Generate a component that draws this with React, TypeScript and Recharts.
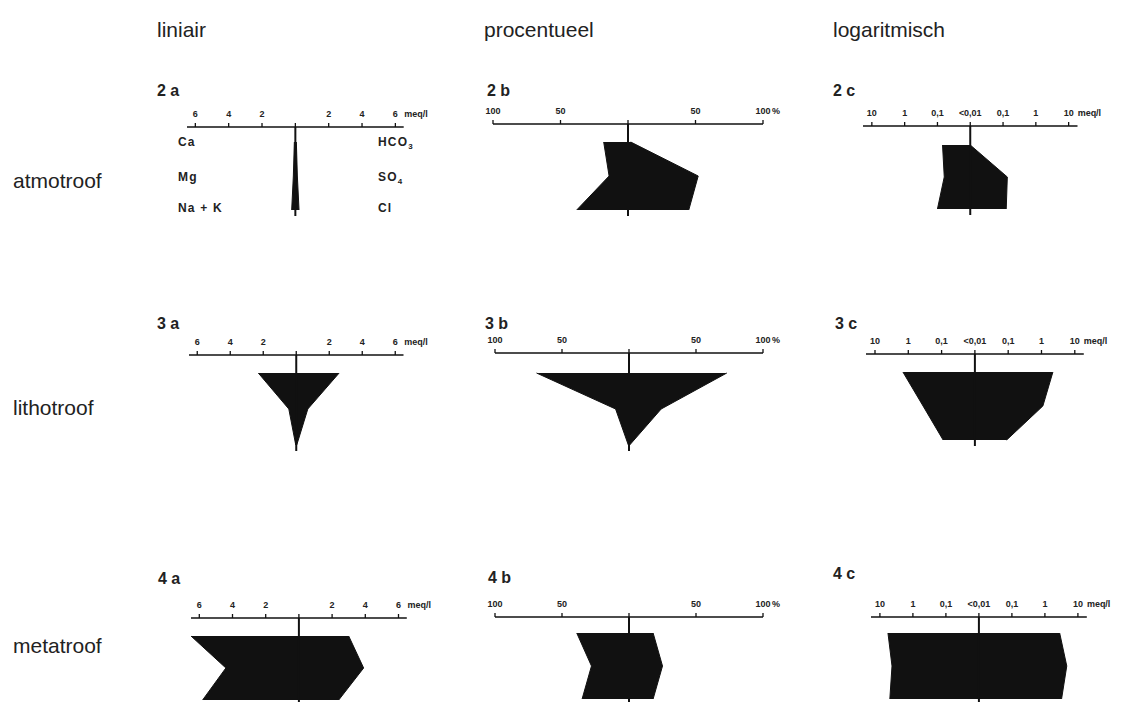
import React from 'react';
import { ComposedChart, Area, XAxis, YAxis, ReferenceLine } from 'recharts';

type Kind = 'lin' | 'pct' | 'log';

// rows of a Stiff diagram: Ca | HCO3, Mg | SO4, Na+K | Cl
const ROW_INDEX = [0, 1, 2];

const LIN_TICKS = [-6, -4, -2, 0, 2, 4, 6];
const LIN_LABELS = ['6', '4', '2', '', '2', '4', '6'];
const PCT_TICKS = [-100, -50, 0, 50, 100];
const PCT_LABELS = ['100', '50', '', '50', '100'];
const LOG_TICKS = [-3, -2, -1, 0, 1, 2, 3];
const LOG_LABELS = ['10', '1', '0,1', '<0,01', '0,1', '1', '10'];

// atmotroof (meq/l, %, meq/l)
const ATMO_LIN_CAT = [0.06, 0.12, 0.22];
const ATMO_LIN_AN = [0.06, 0.12, 0.22];
const ATMO_PCT_CAT = [18, 14, 38];
const ATMO_PCT_AN = [2, 52, 45];
const ATMO_LOG_CAT = [0.07, 0.062, 0.1];
const ATMO_LOG_AN = [0.01, 0.135, 0.125];

// lithotroof
const LITHO_LIN_CAT = [2.3, 0.45, 0.03];
const LITHO_LIN_AN = [2.6, 0.7, 0.03];
const LITHO_PCT_CAT = [69, 10, 0.5];
const LITHO_PCT_AN = [73, 24, 0.5];
const LITHO_LOG_CAT = [1.45, 0.36, 0.09];
const LITHO_LOG_AN = [2.2, 1.1, 0.09];

// metatroof
const META_LIN_CAT = [6.5, 4.4, 5.8];
const META_LIN_AN = [3.0, 3.9, 2.4];
const META_PCT_CAT = [39, 28, 35];
const META_PCT_AN = [18, 25, 18];
const META_LOG_CAT = [5.7, 4.3, 5.0];
const META_LOG_AN = [2.8, 4.6, 3.2];

const AXIS = {
  lin: { half: 6.5, ticks: LIN_TICKS, labels: LIN_LABELS, unit: 'meq/l' },
  pct: { half: 100, ticks: PCT_TICKS, labels: PCT_LABELS, unit: '%' },
  log: { half: 3.27, ticks: LOG_TICKS, labels: LOG_LABELS, unit: 'meq/l' },
};

const toPos = (kind: Kind, v: number) =>
  kind === 'log' ? Math.log10(Math.max(v, 0.01)) + 2 : v;

const PANELS = [
  { kind: 'lin', cat: ATMO_LIN_CAT, an: ATMO_LIN_AN, cx: 295, ppu: 16.67, axisY: 127, row0: 142, gap: 34 },
  { kind: 'pct', cat: ATMO_PCT_CAT, an: ATMO_PCT_AN, cx: 627.5, ppu: 1.35, axisY: 124, row0: 142, gap: 34 },
  { kind: 'log', cat: ATMO_LOG_CAT, an: ATMO_LOG_AN, cx: 970.5, ppu: 32.8, axisY: 126, row0: 145, gap: 32 },
  { kind: 'lin', cat: LITHO_LIN_CAT, an: LITHO_LIN_AN, cx: 296, ppu: 16.5, axisY: 355, row0: 373, gap: 36 },
  { kind: 'pct', cat: LITHO_PCT_CAT, an: LITHO_PCT_AN, cx: 629, ppu: 1.34, axisY: 353, row0: 373, gap: 36 },
  { kind: 'log', cat: LITHO_LOG_CAT, an: LITHO_LOG_AN, cx: 975, ppu: 33.3, axisY: 354, row0: 372, gap: 34 },
  { kind: 'lin', cat: META_LIN_CAT, an: META_LIN_AN, cx: 298.5, ppu: 16.6, axisY: 618, row0: 636, gap: 32 },
  { kind: 'pct', cat: META_PCT_CAT, an: META_PCT_AN, cx: 629, ppu: 1.34, axisY: 617, row0: 633, gap: 33 },
  { kind: 'log', cat: META_LOG_CAT, an: META_LOG_AN, cx: 979, ppu: 33, axisY: 617, row0: 633, gap: 33 },
] as const;

const INK = '#111';
const AXIS_H = 22;
const M_LEFT = 12;
const M_RIGHT = 52;
const TAIL = 6;
const FONT = "'Liberation Sans', Arial, sans-serif";

function AxisTick(props: any) {
  const { x, y, payload, kind } = props;
  const cfg = AXIS[kind as Kind];
  const i = cfg.ticks.indexOf(payload.value);
  const isLast = i === cfg.ticks.length - 1;
  return (
    <g>
      <text x={x} y={y - 4} textAnchor="middle" fontSize={9} fontWeight={700} fill="#222" fontFamily={FONT}>
        {cfg.labels[i]}
      </text>
      {isLast && (
        <text x={x + 9} y={y - 4} textAnchor="start" fontSize={9} fontWeight={700} fill="#222" fontFamily={FONT}>
          {cfg.unit}
        </text>
      )}
    </g>
  );
}

function StiffPanel({ p }: { p: (typeof PANELS)[number] }) {
  const kind = p.kind as Kind;
  const cfg = AXIS[kind];
  const data = ROW_INDEX.map((r) => ({
    row: r,
    span: [-toPos(kind, p.cat[r]), toPos(kind, p.an[r])],
  }));
  const plotW = 2 * cfg.half * p.ppu;
  const plotH = p.row0 - p.axisY + 2 * p.gap + TAIL;
  const left = p.cx - cfg.half * p.ppu - M_LEFT;
  const top = p.axisY - AXIS_H;
  return (
    <div style={{ position: 'absolute', left, top }}>
      <ComposedChart
        layout="vertical"
        width={plotW + M_LEFT + M_RIGHT}
        height={plotH + AXIS_H}
        data={data}
        margin={{ top: 0, right: M_RIGHT, bottom: 0, left: M_LEFT }}
      >
        <XAxis
          type="number"
          orientation="top"
          domain={[-cfg.half, cfg.half]}
          ticks={cfg.ticks}
          allowDataOverflow
          height={AXIS_H}
          axisLine={{ stroke: INK, strokeWidth: 1.3 }}
          tickLine={{ stroke: INK, strokeWidth: 1.3 }}
          tickSize={4}
          tickMargin={2}
          interval={0}
          tick={(t: any) => <AxisTick {...t} kind={kind} />}
        />
        <YAxis
          type="number"
          dataKey="row"
          hide
          allowDataOverflow
          domain={[-(p.row0 - p.axisY) / p.gap, 2 + TAIL / p.gap]}
        />
        <Area
          type="linear"
          dataKey="span"
          stroke={INK}
          strokeWidth={1}
          fill={INK}
          fillOpacity={1}
          dot={false}
          activeDot={false}
          isAnimationActive={false}
        />
        <ReferenceLine x={0} stroke={INK} strokeWidth={2} />
      </ComposedChart>
    </div>
  );
}

const txt: React.CSSProperties = {
  position: 'absolute',
  whiteSpace: 'nowrap',
  color: '#222',
  lineHeight: 1,
};

export default function App() {
  const head = { ...txt, fontSize: 21, top: 19 };
  const rowLbl = { ...txt, fontSize: 21, left: 13 };
  const pl = { ...txt, fontSize: 16, fontWeight: 700 };
  const ion = { ...txt, fontSize: 12, fontWeight: 700, letterSpacing: 1.2 };
  return (
    <div
      style={{
        position: 'absolute',
        left: 0,
        top: 0,
        width: 1124,
        height: 702,
        overflow: 'hidden',
        background: '#fff',
        fontFamily: FONT,
      }}
    >
      <div style={{ ...head, left: 157 }}>liniair</div>
      <div style={{ ...head, left: 484 }}>procentueel</div>
      <div style={{ ...head, left: 833 }}>logaritmisch</div>

      <div style={{ ...rowLbl, top: 170 }}>atmotroof</div>
      <div style={{ ...rowLbl, top: 397 }}>lithotroof</div>
      <div style={{ ...rowLbl, top: 635 }}>metatroof</div>

      <div style={{ ...pl, left: 157, top: 83 }}>2 a</div>
      <div style={{ ...pl, left: 487, top: 83 }}>2 b</div>
      <div style={{ ...pl, left: 833, top: 83 }}>2 c</div>
      <div style={{ ...pl, left: 157, top: 316 }}>3 a</div>
      <div style={{ ...pl, left: 485, top: 316 }}>3 b</div>
      <div style={{ ...pl, left: 835, top: 316 }}>3 c</div>
      <div style={{ ...pl, left: 158, top: 571 }}>4 a</div>
      <div style={{ ...pl, left: 488, top: 570 }}>4 b</div>
      <div style={{ ...pl, left: 833, top: 566 }}>4 c</div>

      <div style={{ ...ion, left: 178, top: 136 }}>Ca</div>
      <div style={{ ...ion, left: 178, top: 171 }}>Mg</div>
      <div style={{ ...ion, left: 178, top: 202 }}>Na + K</div>
      <div style={{ ...ion, left: 378, top: 136 }}>HCO<sub style={{ fontSize: 8 }}>3</sub></div>
      <div style={{ ...ion, left: 378, top: 171 }}>SO<sub style={{ fontSize: 8 }}>4</sub></div>
      <div style={{ ...ion, left: 378, top: 202 }}>Cl</div>

      {PANELS.map((p, i) => (
        <StiffPanel key={i} p={p} />
      ))}
    </div>
  );
}
